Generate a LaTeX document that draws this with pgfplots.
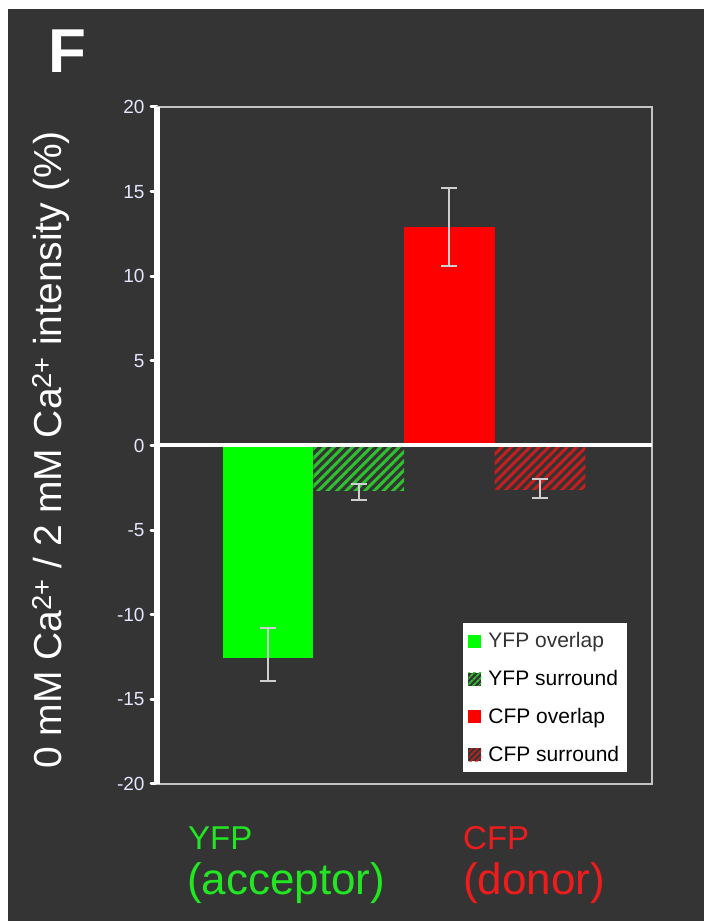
\documentclass[border=0pt]{standalone}
\usepackage{pgfplots}
\pgfplotsset{compat=1.18}
\usepackage{fontspec}
\setmainfont{Liberation Sans}
\usetikzlibrary{patterns.meta}
\definecolor{bg}{HTML}{343434}
\definecolor{framec}{HTML}{C4C4C4}
\definecolor{errc}{HTML}{CFCFCF}
\definecolor{gbar}{HTML}{00FF00}
\definecolor{ghatch}{HTML}{2EC22E}
\definecolor{rbar}{HTML}{FF0000}
\definecolor{rhatch}{HTML}{C81E1E}
\definecolor{gtext}{HTML}{22E622}
\definecolor{rtext}{HTML}{EE1C1C}
\begin{document}
\begin{tikzpicture}[x=1pt,y=1pt]
\useasboundingbox (0,0) rectangle (704,921);
\fill[white] (0,0) rectangle (704,921);
\fill[bg] (8,0) rectangle (704,912);
\begin{axis}[
  at={(157pt,137pt)}, anchor=south west, scale only axis,
  width=495pt, height=677pt,
  xmin=-1.224, xmax=4.234, ymin=-20, ymax=20,
  clip=false,
  axis line style={framec, line width=2pt},
  xtick=\empty,
  ytick={-20,-15,...,20},
  ytick pos=left,
  tick align=outside,
  major tick length=6pt,
  tick style={white, line width=3pt, line cap=round},
  yticklabel style={font=\fontsize{19}{22}\selectfont, text=white!90!blue, xshift=-3pt},
  /pgf/number format/assume math mode=true,
  legend cell align=left,
  legend style={at={(0.616,0.239)}, anchor=north west, fill=white, draw=black!80, line width=1pt,
    font=\fontsize{21}{24}\selectfont, text=black, row sep=17pt, inner xsep=6pt, inner ysep=8pt,
    /tikz/every odd column/.append style={column sep=5pt}},
  error bars/y dir=both, error bars/y explicit,
  error bars/error bar style={errc, line width=2pt},
  error bars/error mark options={errc, rotate=90, mark size=8pt, line width=2pt},
]
\addplot[ybar, bar width=1, bar shift=0pt, fill=gbar, draw=none,
  legend image code/.code={\fill[gbar] (0pt,-7pt) rectangle (13pt,6pt);}]
  coordinates {(0,-12.55) += (0,1.75) -= (0,1.35)};
\addlegendentry{\textcolor{black!80}{YFP overlap}}
\addplot[ybar, bar width=1, bar shift=0pt, draw=none,
  pattern={Lines[angle=45, distance=6.6pt, line width=3pt]}, pattern color=ghatch,
  legend image code/.code={\fill[bg] (0pt,-7pt) rectangle (13pt,6pt);
    \fill[pattern={Lines[angle=45, distance=4pt, line width=2pt]}, pattern color=ghatch] (0pt,-7pt) rectangle (13pt,6pt);}]
  coordinates {(1,-2.65) += (0,0.35) -= (0,0.55)};
\addlegendentry{YFP surround}
\addplot[ybar, bar width=1, bar shift=0pt, fill=rbar, draw=none,
  legend image code/.code={\fill[rbar] (0pt,-7pt) rectangle (13pt,6pt);}]
  coordinates {(2,12.9) += (0,2.3) -= (0,2.3)};
\addlegendentry{CFP overlap}
\addplot[ybar, bar width=1, bar shift=0pt, draw=none,
  pattern={Lines[angle=45, distance=6.6pt, line width=3pt]}, pattern color=rhatch,
  legend image code/.code={\fill[bg] (0pt,-7pt) rectangle (13pt,6pt);
    \fill[pattern={Lines[angle=45, distance=4pt, line width=2pt]}, pattern color=rhatch] (0pt,-7pt) rectangle (13pt,6pt);}]
  coordinates {(3,-2.6) += (0,0.6) -= (0,0.5)};
\addlegendentry{CFP surround}
\draw[white, line width=4pt] (axis cs:-1.224,0) -- (axis cs:4.234,0);
\draw[white, line width=6pt] (rel axis cs:0,0) -- (rel axis cs:0,1);
\end{axis}
\node[anchor=base west, text=white, font=\fontsize{62}{62}\selectfont\bfseries, inner sep=0] at (48,848) {F};
\node[rotate=90, anchor=base, text=white, font=\fontsize{39}{40}\selectfont, inner sep=0] at (61,471)
  {0 mM Ca\textsuperscript{2+} / 2 mM Ca\textsuperscript{2+} intensity (\%)};
\node[anchor=base west, text=gtext, font=\fontsize{33}{33}\selectfont, inner sep=0] at (188,71) {YFP};
\node[anchor=base west, text=gtext, font=\fontsize{44}{44}\selectfont, inner sep=0] at (187,26) {(acceptor)};
\node[anchor=base west, text=rtext, font=\fontsize{33}{33}\selectfont, inner sep=0] at (463,71) {CFP};
\node[anchor=base west, text=rtext, font=\fontsize{44}{44}\selectfont, inner sep=0] at (463,26) {(donor)};
\end{tikzpicture}
\end{document}
